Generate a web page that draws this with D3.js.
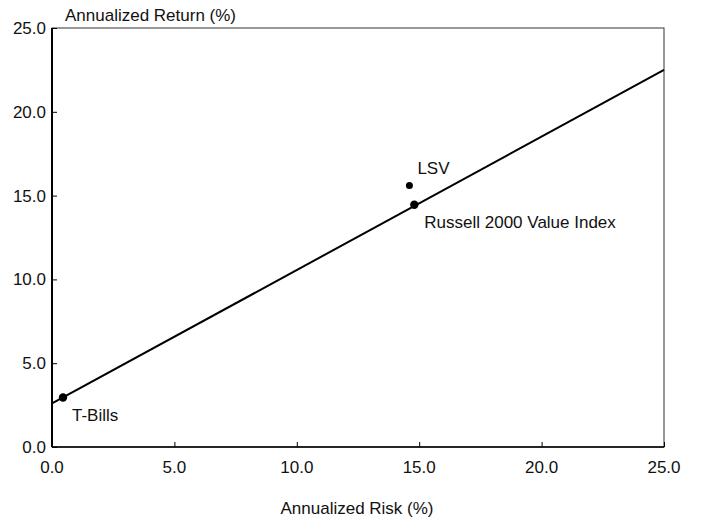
<!DOCTYPE html>
<html><head><meta charset="utf-8">
<script src="https://cdn.jsdelivr.net/npm/d3@7"></script>
<style>body{margin:0;background:#fff}svg{display:block}text{font-family:"Liberation Sans",Arial,sans-serif;fill:#111}</style>
</head><body>
<script>
const xTicks = [0, 5, 10, 15, 20, 25];
const yTicks = [0, 5, 10, 15, 20, 25];
const pointNames = ["T-Bills", "Russell 2000 Value Index", "LSV"];
const pointRisk = [0.45, 14.8, 14.6];
const pointReturn = [2.95, 14.45, 15.6];
const lineRisk = [0, 25];
const lineReturn = [2.6, 22.5];

const W = 701, H = 522, FS = 17;
const svg = d3.select("body").append("svg").attr("width", W).attr("height", H);
const x = d3.scaleLinear().domain([0, 25]).range([52, 664]);
const y = d3.scaleLinear().domain([0, 25]).range([447, 28]);

// frame
svg.append("rect").attr("x", 52).attr("y", 28).attr("width", 612).attr("height", 419)
  .attr("fill", "none").attr("stroke", "#333").attr("stroke-width", 1);
svg.append("line").attr("x1", 52).attr("x2", 52).attr("y1", 28).attr("y2", 447).attr("stroke", "#000").attr("stroke-width", 2);
svg.append("line").attr("x1", 52).attr("x2", 664).attr("y1", 447).attr("y2", 447).attr("stroke", "#000").attr("stroke-width", 1.5);

const yAxis = d3.axisRight(y).tickValues(yTicks).tickSize(5).tickFormat("");
svg.append("g").attr("transform", "translate(52,0)").call(yAxis).call(g => g.select(".domain").remove());
const xAxis = d3.axisTop(x).tickValues(xTicks).tickSize(5).tickFormat("");
svg.append("g").attr("transform", "translate(0,447)").call(xAxis).call(g => g.select(".domain").remove());

svg.selectAll(".yl").data(yTicks).join("text").attr("class", "yl")
  .attr("x", 46).attr("y", d => y(d) + 6).attr("text-anchor", "end")
  .attr("font-size", FS).text(d => d.toFixed(1));
svg.selectAll(".xl").data(xTicks).join("text").attr("class", "xl")
  .attr("x", d => x(d)).attr("y", 473).attr("text-anchor", "middle")
  .attr("font-size", FS).text(d => d.toFixed(1));

svg.append("text").attr("x", 65).attr("y", 21).attr("font-size", FS).text("Annualized Return (%)");
svg.append("text").attr("x", 357).attr("y", 514).attr("text-anchor", "middle").attr("font-size", FS).text("Annualized Risk (%)");

const line = d3.line().x(d => x(d[0])).y(d => y(d[1]));
svg.append("path").datum(lineRisk.map((r, i) => [r, lineReturn[i]]))
  .attr("d", line).attr("fill", "none").attr("stroke", "#000").attr("stroke-width", 2);

const pts = pointNames.map((n, i) => ({n, r: pointRisk[i], v: pointReturn[i]}));
svg.selectAll("circle").data(pts).join("circle")
  .attr("cx", d => x(d.r)).attr("cy", d => y(d.v)).attr("r", d => d.n === "LSV" ? 3.5 : 4.2).attr("fill", "#000");

const labelOff = {"T-Bills": [9, 23], "Russell 2000 Value Index": [10, 23], "LSV": [8, -12]};
svg.selectAll(".pl").data(pts).join("text").attr("class", "pl")
  .attr("x", d => x(d.r) + labelOff[d.n][0]).attr("y", d => y(d.v) + labelOff[d.n][1])
  .attr("font-size", FS).text(d => d.n);
</script>
</body></html>
